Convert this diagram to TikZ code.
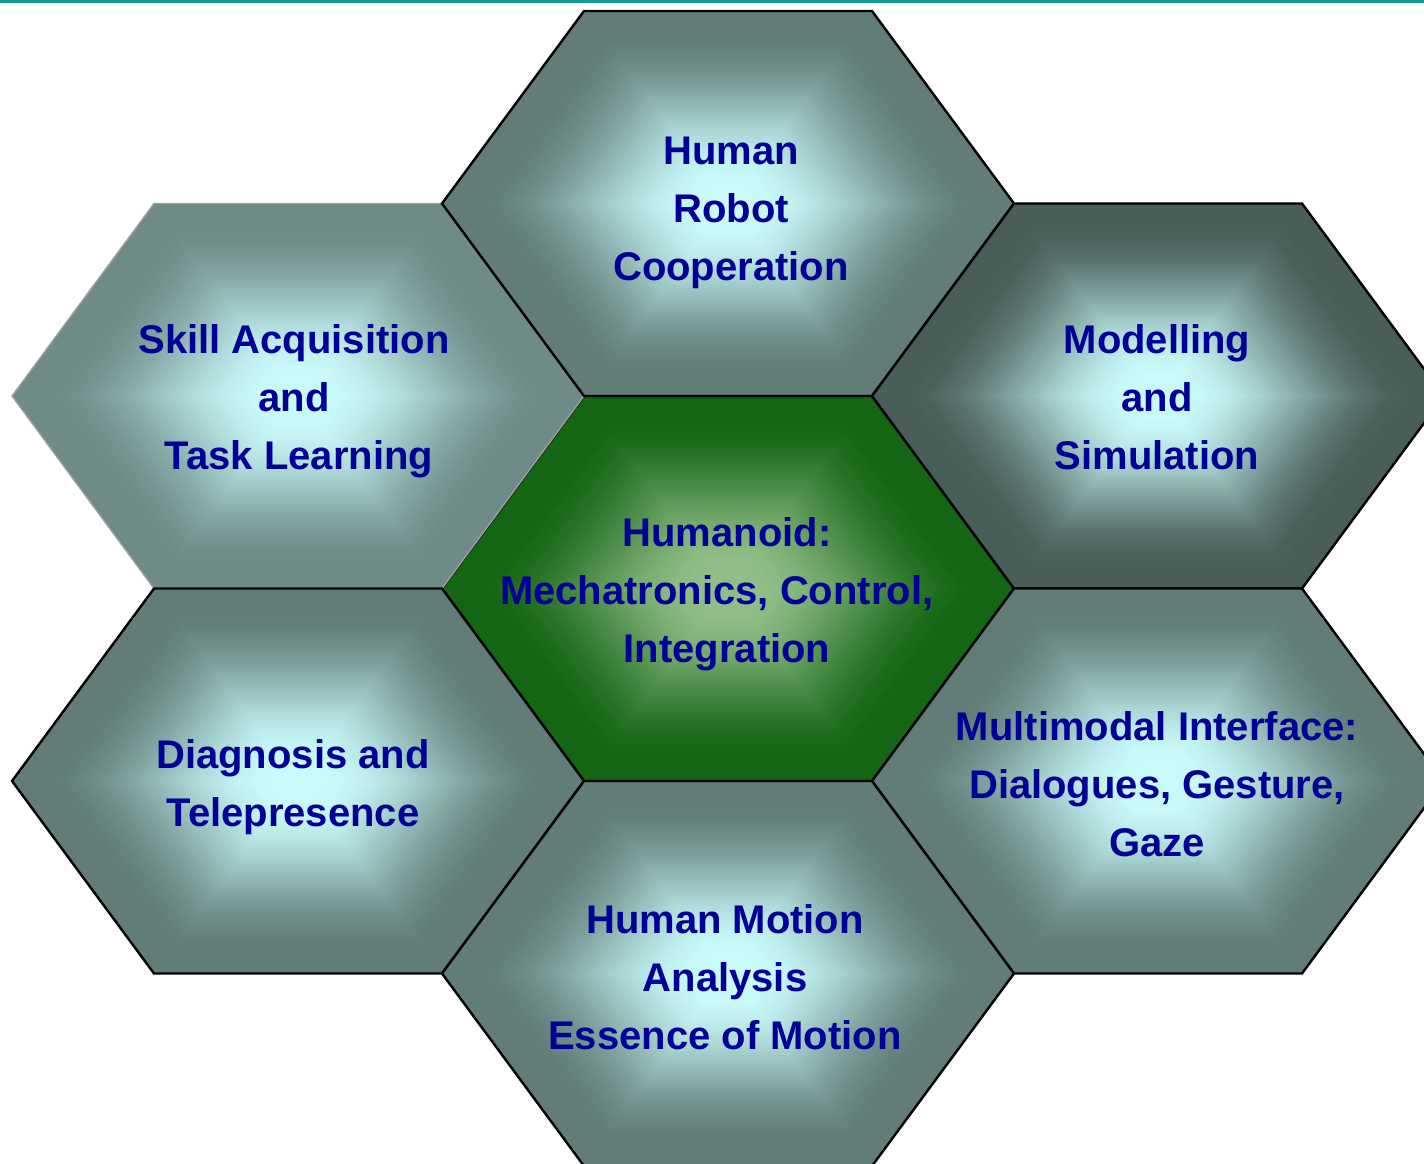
\documentclass[tikz,border=0pt]{standalone}
\usepackage{fontspec}
\setmainfont{Liberation Sans}

% colours of the honeycomb
\definecolor{hexlight}{RGB}{200,250,250}
\definecolor{hexedge}{RGB}{98,125,120}
\definecolor{hexedgeSoft}{RGB}{110,139,135}
\definecolor{hexedgeDeep}{RGB}{74,94,89}
\definecolor{hubcore}{RGB}{145,190,136}
\definecolor{hubedge}{RGB}{20,102,20}
\definecolor{labelblue}{RGB}{0,0,150}
\definecolor{topband}{RGB}{18,150,150}

% flat-topped hexagon on a common lattice: centre x, centre y
\newcommand\hexcell[2]{(#1-286,#2) -- (#1-144,#2-192.5) -- (#1+144,#2-192.5)
  -- (#1+286,#2) -- (#1+144,#2+192.5) -- (#1-144,#2+192.5) -- cycle}

% path gradient: nested hexagons from the rim colour (#3) to the core colour (#4)
\newcommand\gradcell[4]{%
  \begin{scope}[shift={(#1,#2)}]
    \foreach \gk in {0,...,56}{%
      \pgfmathsetmacro\gs{1-\gk/57}%
      \pgfmathsetmacro\gt{min(max((\gs-0.1)/0.8,0),1)}%
      \pgfmathtruncatemacro\gp{round(100*\gt*\gt*(3-2*\gt))}%
      \fill[#3!\gp!#4] (-286*\gs,0) -- (-144*\gs,-192.5*\gs) -- (144*\gs,-192.5*\gs)
        -- (286*\gs,0) -- (144*\gs,192.5*\gs) -- (-144*\gs,192.5*\gs) -- cycle;
    }
  \end{scope}}

\begin{document}
\begin{tikzpicture}[x=1pt,y=-1pt,
  cell/.style={draw=black, line width=2.4pt, line join=miter},
  softcell/.style={draw=gray!75, line width=1.4pt, line join=miter},
  celltext/.style={font=\bfseries\fontsize{40}{58}\selectfont,
    text=labelblue, align=center, inner sep=0pt}]

\useasboundingbox (0,0) rectangle (1424,1163);
\clip (0,0) rectangle (1424,1163);
\fill[white] (0,0) rectangle (1424,1163);

% hub first, then the upper-left cell with its grey rim, then the rest
\gradcell{728}{588.5}{hubedge}{hubcore}
\draw[cell] \hexcell{728}{588.5};
\gradcell{298}{396}{hexedgeSoft}{hexlight}
\draw[softcell] \hexcell{298}{396};
\gradcell{728}{203.5}{hexedge}{hexlight}
\draw[cell] \hexcell{728}{203.5};
\gradcell{1158}{396}{hexedgeDeep}{hexlight}
\draw[cell] \hexcell{1158}{396};
\gradcell{298}{781}{hexedge}{hexlight}
\draw[cell] \hexcell{298}{781};
\gradcell{1158}{781}{hexedge}{hexlight}
\draw[cell] \hexcell{1158}{781};
\gradcell{728}{973.5}{hexedge}{hexlight}
\draw[cell] \hexcell{728}{973.5};

% thin band along the top edge
\fill[topband] (0,0) rectangle (1424,3);

% labels
\node[celltext] (hub) at (727,594) {Humanoid:\\\makebox[454pt][l]{Mechatronics, Control,}\\Integration};
\node[celltext] (hrc) at (731,213) {Human\\Robot\\Cooperation};
\node[celltext] (skill) at (294,401) {Skill Acquisition\\and\\\hspace*{10pt}Task Learning};
\node[celltext] (model) at (1157,397) {Modelling\\and\\Simulation};
\node[celltext] (diag) at (293,787) {Diagnosis and\\Telepresence};
\node[celltext] (mmi) at (1157,784) {Multimodal Interface:\\Dialogues, Gesture,\\Gaze};
\node[celltext] (motion) at (725,977) {Human Motion\\Analysis\\Essence of Motion};
\end{tikzpicture}
\end{document}
